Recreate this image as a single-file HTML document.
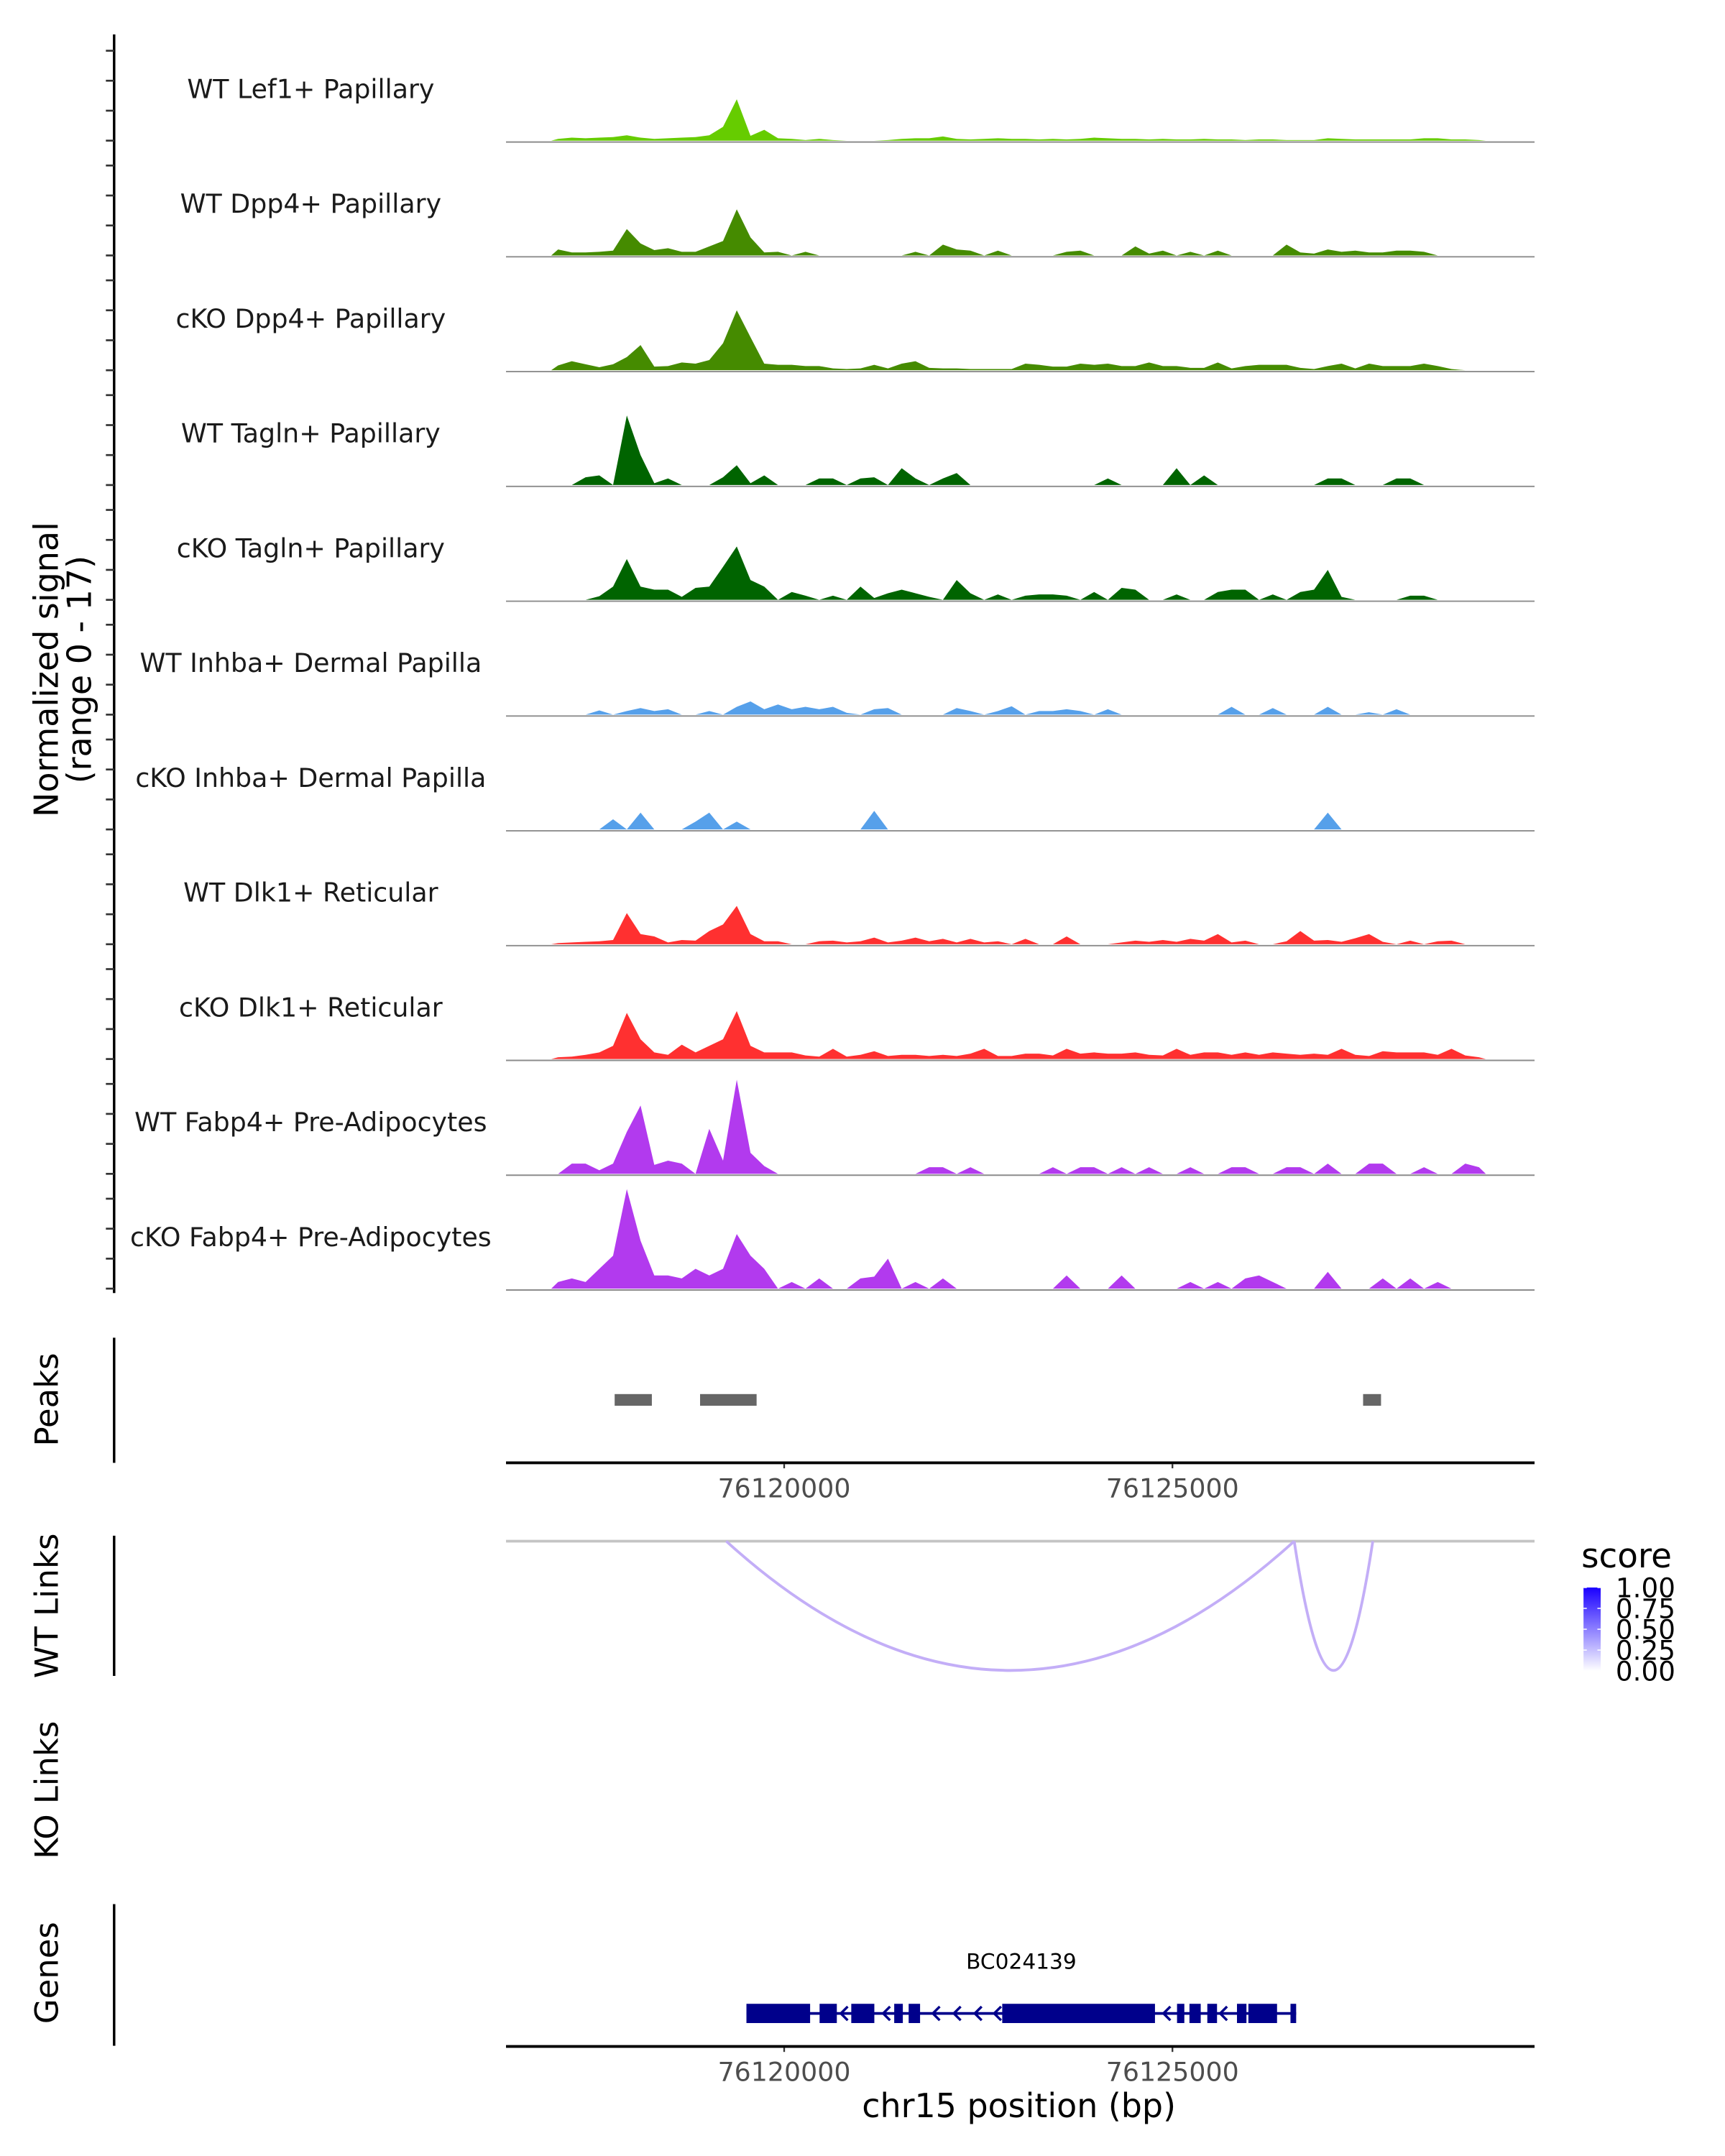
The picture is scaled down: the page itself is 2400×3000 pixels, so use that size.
<!DOCTYPE html>
<html><head><meta charset="utf-8">
<style>
html,body{margin:0;padding:0;background:#fff;}
svg{display:block;font-family:"DejaVu Sans","Liberation Sans",sans-serif;}
</style></head>
<body>
<svg id="chart" xmlns="http://www.w3.org/2000/svg" width="2400" height="3000" viewBox="0 0 1254.5 1568.2" preserveAspectRatio="none">
<rect x="0" y="0" width="1254.5" height="1568.2" fill="#fff"/>
</svg>
<script>
// ---- data ----
const regionStart = 76116418;
const regionEnd = 76129663;
const binStart = 76117000;
const binWidth = 177;
const trackNames = ["WT Lef1+ Papillary","WT Dpp4+ Papillary","cKO Dpp4+ Papillary","WT Tagln+ Papillary","cKO Tagln+ Papillary","WT Inhba+ Dermal Papilla","cKO Inhba+ Dermal Papilla","WT Dlk1+ Reticular","cKO Dlk1+ Reticular","WT Fabp4+ Pre-Adipocytes","cKO Fabp4+ Pre-Adipocytes"];
const trackColors = ["#66cc00","#458b00","#458b00","#006400","#006400","#56a0ea","#56a0ea","#ff3030","#ff3030","#b23aee","#b23aee"];
const sigLef1WT = [0.3,0.5,0.4,0.5,0.6,0.9,0.5,0.3,0.4,0.5,0.6,0.9,2.3,6.9,0.8,1.8,0.4,0.3,0.1,0.3,0.1,0,0,0,0.1,0.3,0.4,0.4,0.7,0.3,0.2,0.3,0.4,0.3,0.3,0.2,0.3,0.2,0.3,0.5,0.4,0.3,0.3,0.2,0.3,0.2,0.2,0.3,0.2,0.2,0.1,0.2,0.2,0.1,0.1,0.1,0.4,0.3,0.2,0.2,0.2,0.2,0.2,0.4,0.4,0.2,0.2,0.1];
const sigDpp4WT = [1,0.5,0.5,0.6,0.8,4.4,2,0.9,1.2,0.6,0.6,1.5,2.4,7.7,3,0.5,0.6,0,0.6,0,0,0,0,0,0,0,0.6,0,1.8,1,0.8,0,0.8,0,0,0,0,0.6,0.8,0,0,0,1.5,0.3,0.8,0,0.6,0,0.8,0,0,0,0,1.8,0.5,0.3,1,0.6,0.8,0.5,0.5,0.8,0.8,0.6,0,0,0,0];
const sigDpp4KO = [0.8,1.5,1,0.5,1,2.2,4.2,0.6,0.7,1.3,1.1,1.7,4.5,10,5.5,1.1,0.9,0.9,0.7,0.7,0.3,0.2,0.3,0.9,0.3,1.1,1.5,0.4,0.3,0.3,0.2,0.2,0.2,0.2,1.1,0.9,0.6,0.6,1.1,0.9,1.1,0.7,0.7,1.3,0.7,0.7,0.4,0.4,1.3,0.3,0.7,0.9,0.9,0.9,0.4,0.2,0.7,1.1,0.3,1.1,0.7,0.7,0.7,1.1,0.7,0.2,0,0];
const sigTaglnWT = [0,0,1.3,1.6,0,11.6,5,0.3,1.1,0,0,0,1.3,3.3,0.3,1.6,0,0,0,1.1,1.1,0,1.1,1.3,0,2.8,1.1,0,1.1,2,0,0,0,0,0,0,0,0,0,0,1.1,0,0,0,0,2.8,0,1.6,0,0,0,0,0,0,0,0,1.1,1.1,0,0,0,1.1,1.1,0,0,0,0,0];
const sigTaglnKO = [0,0,0,0.6,2.2,6.8,2.2,1.7,1.7,0.5,2,2.2,5.5,8.9,3.3,2.2,0,1.3,0.7,0,0.7,0,2.2,0.3,1.1,1.7,1.1,0.5,0,3.3,1.1,0,0.9,0,0.7,0.9,0.9,0.7,0,1.3,0,2,1.7,0,0,0.9,0,0,1.3,1.7,1.7,0,0.9,0,1.3,1.7,5,0.5,0,0,0,0,0.7,0.7,0,0,0,0];
const sigInhbaWT = [0,0,0,0.7,0,0.6,1.1,0.6,0.9,0,0,0.6,0,1.3,2.2,0.9,1.7,0.9,1.3,0.9,1.3,0.3,0,0.9,1.1,0,0,0,0,1.1,0.6,0,0.6,1.4,0,0.6,0.6,0.9,0.6,0,0.9,0,0,0,0,0,0,0,0,1.3,0,0,1.1,0,0,0,1.3,0,0,0.4,0,0.9,0,0,0,0,0,0];
const sigInhbaKO = [0,0,0,0,1.7,0,2.8,0,0,0,1.3,2.8,0,1.3,0,0,0,0,0,0,0,0,0,3.1,0,0,0,0,0,0,0,0,0,0,0,0,0,0,0,0,0,0,0,0,0,0,0,0,0,0,0,0,0,0,0,0,2.8,0,0,0,0,0,0,0,0,0,0,0];
const sigDlk1WT = [0.2,0.3,0.4,0.5,0.7,5.2,1.7,1.3,0.3,0.7,0.6,2.2,3.3,6.4,1.7,0.5,0.5,0,0,0.5,0.6,0.3,0.5,1.1,0.3,0.6,1.1,0.5,0.9,0.3,0.9,0.3,0.5,0,0.9,0,0,1.3,0,0,0,0.3,0.6,0.4,0.7,0.4,0.9,0.6,1.7,0.3,0.6,0,0,0.5,2.2,0.6,0.7,0.4,1,1.7,0.4,0,0.6,0,0.5,0.6,0,0];
const sigDlk1KO = [0.3,0.4,0.7,1.1,2.2,7.7,3.3,1.1,0.7,2.4,1.1,2.2,3.3,8,2.2,1.1,1.1,1.1,0.6,0.4,1.7,0.4,0.7,1.3,0.5,0.7,0.7,0.5,0.7,0.5,0.9,1.7,0.5,0.5,0.9,0.9,0.6,1.7,0.9,1.1,0.9,0.9,1.1,0.7,0.6,1.7,0.7,1.1,1.1,0.7,1.1,0.7,1.1,0.9,0.7,0.9,0.7,1.7,0.7,0.5,1.3,1.1,1.1,1.1,0.7,1.7,0.6,0.3];
const sigFabp4WT = [0,1.7,1.7,0.6,1.7,7,11.4,1.5,2.2,1.7,0,7.5,2.2,15.7,3.5,1.3,0,0,0,0,0,0,0,0,0,0,0,1.1,1.1,0,1.1,0,0,0,0,0,1.1,0,1.1,1.1,0,1.1,0,1.1,0,0,1.1,0,0,1.1,1.1,0,0,1.1,1.1,0,1.7,0,0,1.7,1.7,0,0,1.1,0,0,1.7,1.1];
const sigFabp4KO = [1.1,1.7,1.1,3.3,5.5,16.6,8,2.2,2.2,1.7,3.3,2.2,3.3,9.1,5.5,3.3,0,1.1,0,1.7,0,0,1.7,2,5,0,1.1,0,1.7,0,0,0,0,0,0,0,0,2.2,0,0,0,2.2,0,0,0,0,1.1,0,1.1,0,1.7,2.2,1.1,0,0,0,2.8,0,0,0,1.7,0,1.7,0,1.1,0,0,0];
const signals = [sigLef1WT,sigDpp4WT,sigDpp4KO,sigTaglnWT,sigTaglnKO,sigInhbaWT,sigInhbaKO,sigDlk1WT,sigDlk1KO,sigFabp4WT,sigFabp4KO];
const signalTicks = [0,5,10,15];
const peakStarts = [76117817,76118917,76127455];
const peakEnds = [76118296,76119645,76127686];
const linkStarts = [76119254,76126568];
const linkEnds = [76126568,76127580];
const linkScores = [0.3,0.3];
const xTicks = [76120000,76125000];
const xTickLabels = ["76120000","76125000"];
const geneName = "BC024139";
const exonStarts = [76119514,76120456,76120864,76121417,76121603,76122808,76125059,76125219,76125449,76125831,76125978,76126520];
const exonEnds = [76120334,76120678,76121161,76121528,76121750,76124775,76125153,76125364,76125574,76125953,76126347,76126593];
const arrowPositions = [76120765,76121310,76121950,76122220,76122490,76122740,76124920,76125300,76125650];
const legendTicks = [0,0.25,0.5,0.75,1];
const legendLabels = ["0.00","0.25","0.50","0.75","1.00"];

// ---- scales ----
const PX0 = 368, PX1 = 1116;
function xs(bp){ return PX0 + (bp - regionStart) / (regionEnd - regionStart) * (PX1 - PX0); }
const trackBase0 = 103.3, trackStep = 83.5, unitPx = 4.36;
function ys(k, v){ return trackBase0 + k * trackStep - 1 - v * unitPx; }

const svg = document.getElementById('chart');
const NS = 'http://www.w3.org/2000/svg';
function mk(tag, attrs, parent){
  const e = document.createElementNS(NS, tag);
  for (const k in attrs) e.setAttribute(k, attrs[k]);
  (parent || svg).appendChild(e);
  return e;
}
function txt(s, attrs, parent){ const e = mk('text', attrs, parent); e.textContent = s; return e; }

const covAxis = mk('line', {x1:83, y1:25, x2:83, y2:940.5, stroke:'#000', 'stroke-width':1.8});



const ytitle = txt('Normalized signal', {x:0, y:0, 'font-size':24, 'text-anchor':'middle', fill:'#000', transform:'translate(42,487) rotate(-90)'});


const ytitle2 = txt('(range 0 - 17)', {x:0, y:0, 'font-size':24, 'text-anchor':'middle', fill:'#000', transform:'translate(66,487) rotate(-90)'});



signals.forEach((arr, k) => {
  const g = mk('g', {});
  
  
  const base = ys(k, 0);
  signalTicks.forEach(t => {
    const tk = mk('line', {x1:77, x2:83, y1:ys(k,t), y2:ys(k,t), stroke:'#333', 'stroke-width':1.4}, g);
    
    
  });
  let d = 'M' + xs(binStart).toFixed(2) + ',' + base.toFixed(2);
  arr.forEach((v, i) => {
    const cx = xs(binStart + binWidth * (i + 0.5));
    d += ' L' + cx.toFixed(2) + ',' + ys(k, v).toFixed(2);
  });
  d += ' L' + xs(binStart + binWidth * arr.length).toFixed(2) + ',' + base.toFixed(2) + ' Z';
  const p = mk('path', {d:d, fill:trackColors[k], stroke:'none'}, g);
  
  
  const bl = mk('line', {x1:PX0, x2:PX1, y1:base+1, y2:base+1, stroke:'#8c8c8c', 'stroke-width':1}, g);
  
  
  const lb = txt(trackNames[k], {x:226, y:base - 31, 'font-size':19, 'text-anchor':'middle', fill:'#1a1a1a'}, g);
  
  
});

// peaks panel
const pkAxis = mk('line', {x1:83, y1:973, x2:83, y2:1064, stroke:'#000', 'stroke-width':1.8});


const pkT = txt('Peaks', {x:0, y:0, 'font-size':23.5, 'text-anchor':'middle', fill:'#000', transform:'translate(42,1018) rotate(-90)'});


peakStarts.forEach((s, i) => {
  const r = mk('rect', {x:xs(s), y:1014, width:xs(peakEnds[i]) - xs(s), height:8.5, fill:'#666'});
  
  
});
function xAxis(y, name){
  const ax = mk('line', {x1:PX0, x2:PX1, y1:y, y2:y, stroke:'#000', 'stroke-width':2});
  
  
  xTicks.forEach((t, i) => {
    const tk = mk('line', {x1:xs(t), x2:xs(t), y1:y+1, y2:y+4, stroke:'#333', 'stroke-width':1.2});
    
    
    const tl = txt(xTickLabels[i], {x:xs(t), y:y+25, 'font-size':19, 'text-anchor':'middle', fill:'#4d4d4d'});
    
    
  });
}
xAxis(1064, 'peaks-x-axis');

// WT links
const lkAxis = mk('line', {x1:83, y1:1117, x2:83, y2:1219, stroke:'#000', 'stroke-width':1.8});


const lkT = txt('WT Links', {x:0, y:0, 'font-size':23.5, 'text-anchor':'middle', fill:'#000', transform:'translate(42,1168) rotate(-90)'});


const linkBase = 1121, linkDepth = 94;
const lkBase = mk('line', {x1:PX0, x2:PX1, y1:linkBase, y2:linkBase, stroke:'#c4c4c4', 'stroke-width':2});


linkStarts.forEach((s, i) => {
  const x1 = xs(s), x2 = xs(linkEnds[i]), mid = (x1 + x2) / 2;
  const d = 'M' + x1 + ',' + linkBase + ' Q' + mid + ',' + (linkBase + 2 * linkDepth) + ' ' + x2 + ',' + linkBase;
  const p = mk('path', {d:d, fill:'none', stroke:'#c3aef7', 'stroke-width':2});
  
  
});
// legend
const lg = mk('g', {});


const lgT = txt('score', {x:1150, y:1140, 'font-size':24.5, fill:'#000'}, lg);


const defs = mk('defs', {});
const grad = mk('linearGradient', {id:'sg', x1:0, y1:1, x2:0, y2:0}, defs);
mk('stop', {offset:'0', 'stop-color':'#ffffff'}, grad);
mk('stop', {offset:'1', 'stop-color':'#1a00ff'}, grad);
const cbTop = 1154.7, cbBot = 1215.4;
const cb = mk('rect', {x:1151.6, y:cbTop, width:12.5, height:cbBot - cbTop, fill:'url(#sg)'}, lg);


legendTicks.forEach((t, i) => {
  const y = cbBot - t * (cbBot - cbTop);
  const tk = mk('line', {x1:1151.6, x2:1154, y1:y, y2:y, stroke:'#fff', 'stroke-width':0.8}, lg);
  
  
  const tk2 = mk('line', {x1:1161.7, x2:1164.1, y1:y, y2:y, stroke:'#fff', 'stroke-width':0.8}, lg);
  
  
  const l = txt(legendLabels[i], {x:1175, y:y + 7, 'font-size':19.5, fill:'#000'}, lg);
  
  
});

// KO links
const koT = txt('KO Links', {x:0, y:0, 'font-size':23.5, 'text-anchor':'middle', fill:'#000', transform:'translate(42,1302) rotate(-90)'});



// genes
const gnAxis = mk('line', {x1:83, y1:1385, x2:83, y2:1488, stroke:'#000', 'stroke-width':1.8});


const gnT = txt('Genes', {x:0, y:0, 'font-size':23.5, 'text-anchor':'middle', fill:'#000', transform:'translate(42,1435) rotate(-90)'});


const gg = mk('g', {});


const gy = 1464.5;
const gl = mk('line', {x1:xs(exonStarts[0]), x2:xs(exonEnds[exonEnds.length-1]), y1:gy, y2:gy, stroke:'#00008b', 'stroke-width':2}, gg);


exonStarts.forEach((s, i) => {
  const r = mk('rect', {x:xs(s), y:gy - 7, width:xs(exonEnds[i]) - xs(s), height:14, fill:'#00008b'}, gg);
  
  
});
arrowPositions.forEach(a => {
  const x = xs(a);
  const p = mk('path', {d:'M' + (x+3) + ',' + (gy-5) + ' L' + (x-2) + ',' + gy + ' L' + (x+3) + ',' + (gy+5), fill:'none', stroke:'#00008b', 'stroke-width':1.8}, gg);
  
  
});
const gname = txt(geneName, {x:(xs(exonStarts[0]) + xs(exonEnds[exonEnds.length-1])) / 2, y:1432, 'font-size':15.5, 'text-anchor':'middle', fill:'#000'}, gg);


xAxis(1488.5, 'genes-x-axis');
const xt = txt('chr15 position (bp)', {x:741, y:1540, 'font-size':24, 'text-anchor':'middle', fill:'#000'});


</script>
</body></html>
